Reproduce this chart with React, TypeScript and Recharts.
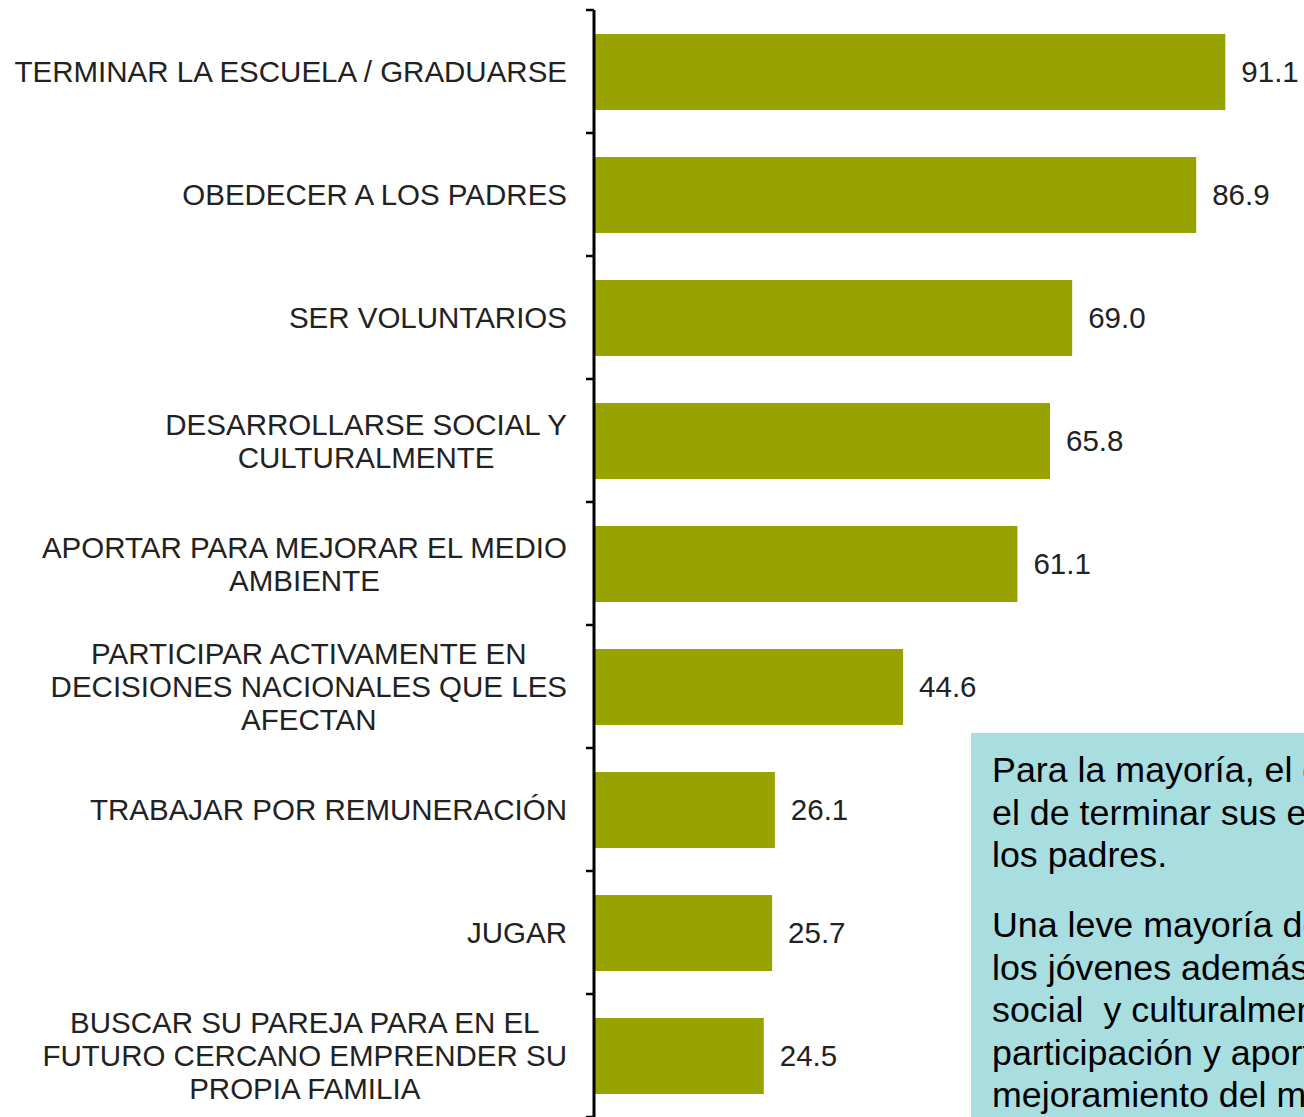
import React from 'react';
import { BarChart, Bar, XAxis, YAxis, LabelList } from 'recharts';

const categories = [
  'TERMINAR LA ESCUELA / GRADUARSE',
  'OBEDECER A LOS PADRES',
  'SER VOLUNTARIOS',
  'DESARROLLARSE SOCIAL Y\nCULTURALMENTE',
  'APORTAR PARA MEJORAR EL MEDIO\nAMBIENTE',
  'PARTICIPAR ACTIVAMENTE EN\nDECISIONES NACIONALES QUE LES\nAFECTAN',
  'TRABAJAR POR REMUNERACIÓN',
  'JUGAR',
  'BUSCAR SU PAREJA PARA EN EL\nFUTURO CERCANO EMPRENDER SU\nPROPIA FAMILIA',
];

const values = [91.1, 86.9, 69.0, 65.8, 61.1, 44.6, 26.1, 25.7, 24.5];

// Category boundaries on the index axis (domain 0 .. n-1 spread over the full height)
const N = categories.length;
const boundaryTicks = Array.from({ length: N + 1 }, (_, k) => (k * (N - 1)) / N);

const noteParagraph1 = [
  'Para la mayoría, el deber más importante es',
  'el de terminar sus estudios y obedecer a',
  'los padres.',
];
const noteParagraph2 = [
  'Una leve mayoría de',
  'los jóvenes además debe desarrollarse',
  'social  y culturalmente, con',
  'participación y aporte en el',
  'mejoramiento del medio ambiente.',
];

const data = categories.map((c, i) => ({ name: c, value: values[i] }));

const FONT = '"Liberation Sans", Arial, sans-serif';

const EmptyTick = () => <g />;

const CategoryTick = (props: any) => {
  const { x, y, payload } = props;
  const lines = String(payload.value).split('\n');
  const w = 580;
  const h = 120;
  return (
    <foreignObject x={x - w} y={y - h / 2} width={w} height={h}>
      <div
        style={{
          width: w,
          height: h,
          display: 'flex',
          alignItems: 'center',
          justifyContent: 'flex-end',
        }}
      >
        <div
          style={{
            textAlign: 'center',
            fontFamily: FONT,
            fontSize: 29.5,
            lineHeight: '33px',
            color: '#222',
            whiteSpace: 'nowrap',
          }}
        >
          {lines.map((l, i) => (
            <div key={i}>{l}</div>
          ))}
        </div>
      </div>
    </foreignObject>
  );
};

export default function App() {
  return (
    <div
      style={{
        position: 'absolute',
        left: 0,
        top: 0,
        width: 1304,
        height: 1117,
        overflow: 'hidden',
        background: '#fff',
      }}
    >
      <BarChart
        width={1304}
        height={1117}
        data={data}
        layout="vertical"
        margin={{ top: 10, right: 17, bottom: 0, left: 0 }}
      >
        <XAxis type="number" domain={[0, 100]} hide />
        <Bar
          dataKey="value"
          yAxisId="zcat"
          fill="#98A200"
          barSize={76}
          isAnimationActive={false}
        >
          <LabelList
            dataKey="value"
            position="right"
            offset={16}
            formatter={(v: any) => Number(v).toFixed(1)}
            style={{ fontFamily: FONT, fontSize: 29.5, fill: '#222' }}
          />
        </Bar>
        <YAxis
          yAxisId="aticks"
          type="number"
          domain={[0, N - 1]}
          ticks={boundaryTicks}
          interval={0}
          width={8}
          tick={EmptyTick}
          tickSize={8}
          tickMargin={0}
          axisLine={{ stroke: '#000', strokeWidth: 3 }}
          tickLine={{ stroke: '#000', strokeWidth: 2.5 }}
        />
        <YAxis
          yAxisId="zcat"
          type="category"
          dataKey="name"
          width={586}
          axisLine={false}
          tickLine={false}
          tickSize={0}
          tickMargin={19}
          interval={0}
          tick={<CategoryTick />}
        />
      </BarChart>
      <div
        style={{
          position: 'absolute',
          left: 971,
          top: 733,
          width: 600,
          height: 600,
          background: '#A8DEE0',
          paddingLeft: 21,
          paddingTop: 16,
          boxSizing: 'border-box',
          fontFamily: FONT,
          fontSize: 35.8,
          lineHeight: '42.5px',
          color: '#000',
          whiteSpace: 'pre',
        }}
      >
        {noteParagraph1.map((l, i) => (
          <div key={'a' + i}>{l}</div>
        ))}
        <div style={{ height: 27.5 }} />
        {noteParagraph2.map((l, i) => (
          <div key={'b' + i}>{l}</div>
        ))}
      </div>
    </div>
  );
}
